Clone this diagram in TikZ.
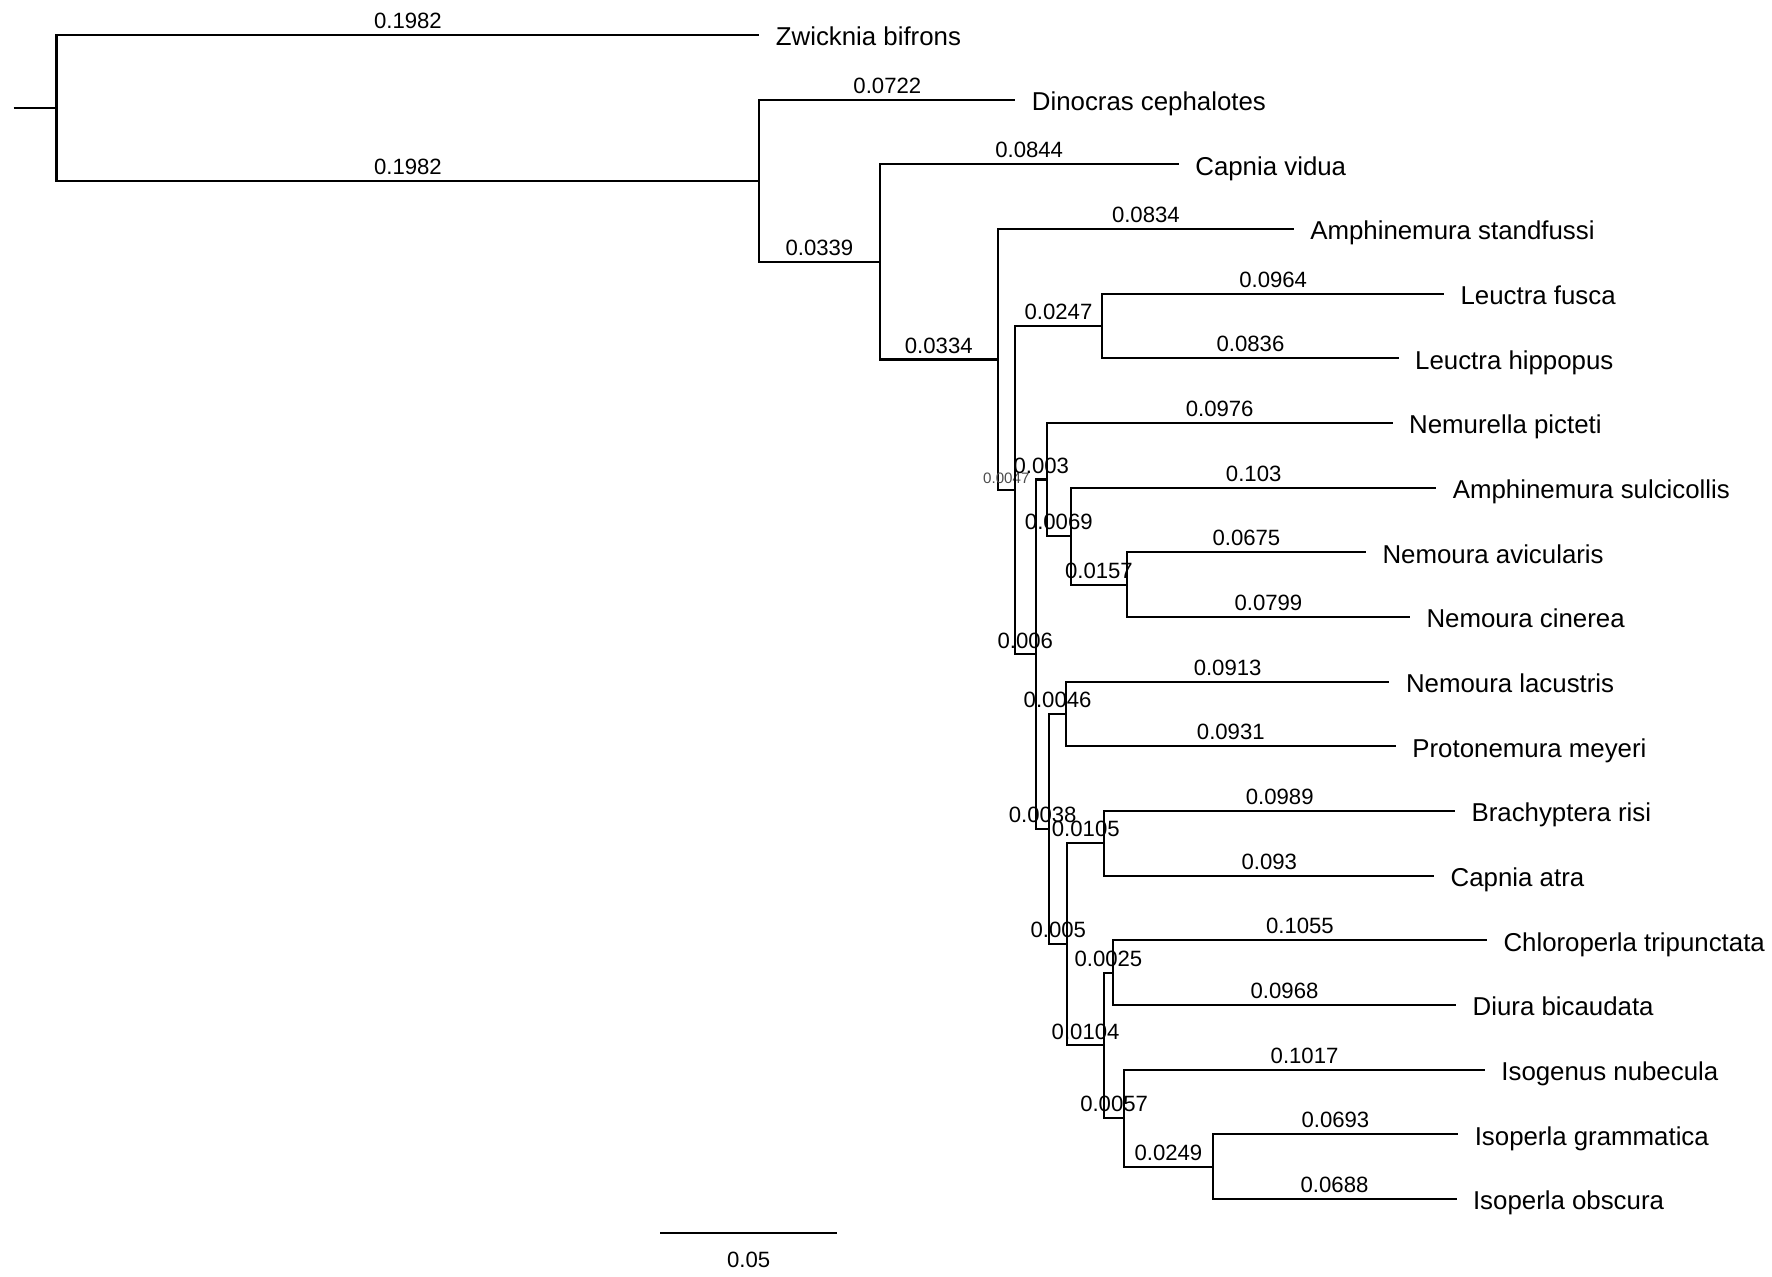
\documentclass[tikz,border=0pt]{standalone}
\usepackage{fontspec}
\setmainfont{Liberation Sans}
\newcommand{\leaffont}{\fontsize{7.35}{8.8}\selectfont}
\newcommand{\lenfont}{\fontsize{6.3}{7.5}\selectfont}
\newcommand{\lensmall}{\fontsize{4.3}{5.2}\selectfont}
\tikzset{
	branch/.style={line width=0.6pt},
	blen/.style={pos=.75,anchor=base,yshift=1.8pt,inner sep=0pt,font=\lenfont},
	leaf/.style={anchor=base west,xshift=4.5pt,yshift=-3.1pt,inner sep=0pt,font=\leaffont}
}
\begin{document}
\begin{tikzpicture}[x=35.46cm,y=-0.01cm]
		\useasboundingbox (-0.01593,0) rectangle (0.48377,1277);
		% internal nodes: x = distance from the root, y = pixel row
		\coordinate (stub) at (-0.0121,107.95);
		\coordinate (root) at (0,107.95);
		\coordinate (a) at (0.1982,180.9);
		\coordinate (b) at (0.2321,262.1);
		\coordinate (c) at (0.2655,359.75);
		\coordinate (d) at (0.2702,490.4);
		\coordinate (e) at (0.2949,326.15);
		\coordinate (f) at (0.2762,654.7);
		\coordinate (g) at (0.2792,479.8);
		\coordinate (h) at (0.2861,536.4);
		\coordinate (i) at (0.3018,584.95);
		\coordinate (j) at (0.2800,829.6);
		\coordinate (k) at (0.2846,714.35);
		\coordinate (l) at (0.2850,944.8);
		\coordinate (m) at (0.2955,843.75);
		\coordinate (n) at (0.2954,1045.9);
		\coordinate (o) at (0.2979,973.15);
		\coordinate (p) at (0.3011,1118.7);
		\coordinate (q) at (0.3260,1167.25);
		% leaf tips
		\coordinate (zwi) at (0.1982,35);
		\coordinate (din) at (0.2704,99.7);
		\coordinate (cvi) at (0.3165,164.4);
		\coordinate (ast) at (0.3489,229.1);
		\coordinate (lfu) at (0.3913,293.8);
		\coordinate (lhi) at (0.3785,358.5);
		\coordinate (npi) at (0.3768,423.2);
		\coordinate (asu) at (0.3891,487.9);
		\coordinate (nav) at (0.3693,552.6);
		\coordinate (nci) at (0.3817,617.3);
		\coordinate (nla) at (0.3759,682);
		\coordinate (pme) at (0.3777,746.7);
		\coordinate (bri) at (0.3944,811.4);
		\coordinate (cat) at (0.3885,876.1);
		\coordinate (ctr) at (0.4034,940.8);
		\coordinate (dbi) at (0.3947,1005.5);
		\coordinate (inu) at (0.4028,1070.2);
		\coordinate (igr) at (0.3953,1134.9);
		\coordinate (iob) at (0.3948,1199.6);
		% branches
		\draw[branch] (stub)--(root);
		\draw[branch] (root) |- (zwi) node[blen] {0.1982};
		\draw[branch] (root) |- (a) node[blen] {0.1982};
		\draw[branch] (a) |- (din) node[blen] {0.0722};
		\draw[branch] (a) |- (b) node[blen] {0.0339};
		\draw[branch] (b) |- (cvi) node[blen] {0.0844};
		\draw[branch] (b) |- (c) node[blen] {0.0334};
		\draw[branch] (c) |- (ast) node[blen] {0.0834};
		\draw[branch] (c) |- (d) node[blen,font=\lensmall,text=black!70] {0.0047};
		\draw[branch] (d) |- (e) node[blen] {0.0247};
		\draw[branch] (e) |- (lfu) node[blen] {0.0964};
		\draw[branch] (e) |- (lhi) node[blen] {0.0836};
		\draw[branch] (d) |- (f) node[blen] {0.006};
		\draw[branch] (f) |- (g) node[blen] {0.003};
		\draw[branch] (g) |- (npi) node[blen] {0.0976};
		\draw[branch] (g) |- (h) node[blen] {0.0069};
		\draw[branch] (h) |- (asu) node[blen] {0.103};
		\draw[branch] (h) |- (i) node[blen] {0.0157};
		\draw[branch] (i) |- (nav) node[blen] {0.0675};
		\draw[branch] (i) |- (nci) node[blen] {0.0799};
		\draw[branch] (f) |- (j) node[blen] {0.0038};
		\draw[branch] (j) |- (k) node[blen] {0.0046};
		\draw[branch] (k) |- (nla) node[blen] {0.0913};
		\draw[branch] (k) |- (pme) node[blen] {0.0931};
		\draw[branch] (j) |- (l) node[blen] {0.005};
		\draw[branch] (l) |- (m) node[blen] {0.0105};
		\draw[branch] (m) |- (bri) node[blen] {0.0989};
		\draw[branch] (m) |- (cat) node[blen] {0.093};
		\draw[branch] (l) |- (n) node[blen] {0.0104};
		\draw[branch] (n) |- (o) node[blen] {0.0025};
		\draw[branch] (o) |- (ctr) node[blen] {0.1055};
		\draw[branch] (o) |- (dbi) node[blen] {0.0968};
		\draw[branch] (n) |- (p) node[blen] {0.0057};
		\draw[branch] (p) |- (inu) node[blen] {0.1017};
		\draw[branch] (p) |- (q) node[blen] {0.0249};
		\draw[branch] (q) |- (igr) node[blen] {0.0693};
		\draw[branch] (q) |- (iob) node[blen] {0.0688};
		% taxa
		\node[leaf] (tzwi) at (zwi) {Zwicknia bifrons};
		\node[leaf] (tdin) at (din) {Dinocras cephalotes};
		\node[leaf] (tcvi) at (cvi) {Capnia vidua};
		\node[leaf] (tast) at (ast) {Amphinemura standfussi};
		\node[leaf] (tlfu) at (lfu) {Leuctra fusca};
		\node[leaf] (tlhi) at (lhi) {Leuctra hippopus};
		\node[leaf] (tnpi) at (npi) {Nemurella picteti};
		\node[leaf] (tasu) at (asu) {Amphinemura sulcicollis};
		\node[leaf] (tnav) at (nav) {Nemoura avicularis};
		\node[leaf] (tnci) at (nci) {Nemoura cinerea};
		\node[leaf] (tnla) at (nla) {Nemoura lacustris};
		\node[leaf] (tpme) at (pme) {Protonemura meyeri};
		\node[leaf] (tbri) at (bri) {Brachyptera risi};
		\node[leaf] (tcat) at (cat) {Capnia atra};
		\node[leaf] (tctr) at (ctr) {Chloroperla tripunctata};
		\node[leaf] (tdbi) at (dbi) {Diura bicaudata};
		\node[leaf] (tinu) at (inu) {Isogenus nubecula};
		\node[leaf] (tigr) at (igr) {Isoperla grammatica};
		\node[leaf] (tiob) at (iob) {Isoperla obscura};
		% scale bar
		\coordinate (sb0) at (0.17019,1234);
		\coordinate (sb1) at (0.22019,1234);
		\draw[branch] (sb0)--(sb1) node[pos=.5,anchor=base,yshift=-9.6pt,inner sep=0pt,font=\lenfont] (sblab) {0.05};
	\end{tikzpicture}
\end{document}
